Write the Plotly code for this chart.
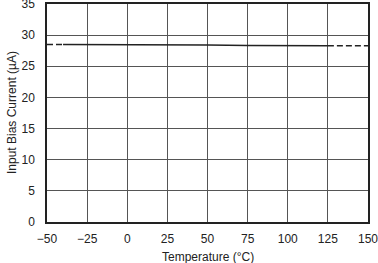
import plotly.graph_objects as go

temp_solid = [-40, -25, 0, 25, 50, 75, 100, 125]
ib_solid = [28.5, 28.5, 28.45, 28.4, 28.4, 28.35, 28.3, 28.3]
temp_dash_lo = [-50, -40]
ib_dash_lo = [28.5, 28.5]
temp_dash_hi = [125, 150]
ib_dash_hi = [28.3, 28.3]

x_ticks = [-50, -25, 0, 25, 50, 75, 100, 125, 150]
x_labels = ["\u221250", "\u221225", "0", "25", "50", "75", "100", "125", "150"]
y_ticks = [0, 5, 10, 15, 20, 25, 30, 35]
x_title = "Temperature (\u00b0C)"
y_title = "Input Bias Current (\u00b5A)"

fig = go.Figure()
fig.add_trace(go.Scatter(x=temp_solid, y=ib_solid, mode="lines",
                         line=dict(color="#222222", width=1.5), showlegend=False))
fig.add_trace(go.Scatter(x=temp_dash_lo, y=ib_dash_lo, mode="lines",
                         line=dict(color="#222222", width=1.5, dash="6px,3px"), showlegend=False))
fig.add_trace(go.Scatter(x=temp_dash_hi, y=ib_dash_hi, mode="lines",
                         line=dict(color="#222222", width=1.5, dash="6px,3px"), showlegend=False))

font = dict(family="Liberation Sans, Arial, sans-serif", size=12, color="#222222")
fig.update_layout(
    width=378, height=263,
    margin=dict(l=47, r=10, t=4, b=41),
    paper_bgcolor="white", plot_bgcolor="white",
    font=font,
    xaxis=dict(range=[-50, 150], tickvals=x_ticks, ticktext=x_labels,
               automargin=False,
               showgrid=True, gridcolor="#555555", gridwidth=1,
               showline=True, linecolor="#222222", linewidth=1.5, mirror=True,
               zeroline=False, ticks="", ticklen=0, ticklabelstandoff=5,
               ticklabeloverflow="allow"),
    yaxis=dict(range=[0, 35], tickvals=y_ticks,
               automargin=False,
               showgrid=True, gridcolor="#555555", gridwidth=1,
               showline=True, linecolor="#222222", linewidth=1.5, mirror=True,
               zeroline=False, ticks="", ticklen=0, ticklabelstandoff=8,
               ticklabeloverflow="allow"),
    annotations=[
        dict(text=x_title, xref="paper", yref="paper", x=0.5, y=0,
             xanchor="center", yanchor="middle", yshift=-35, showarrow=False, font=font),
        dict(text=y_title, xref="paper", yref="paper", x=0, y=0.5, textangle=-90,
             xanchor="center", yanchor="middle", xshift=-35, showarrow=False, font=font),
    ],
)
fig.write_html("out.html")
